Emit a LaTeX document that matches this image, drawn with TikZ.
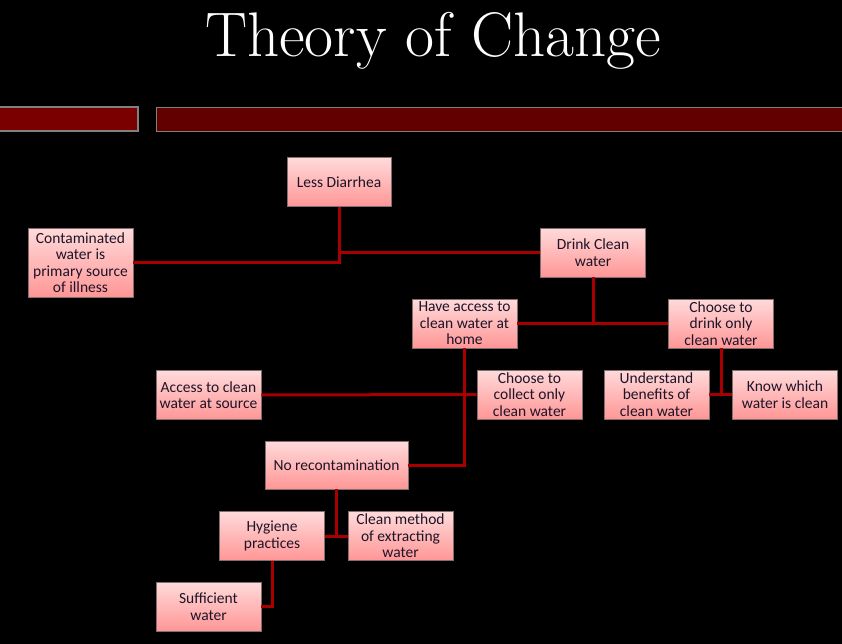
\documentclass[tikz,border=0pt]{standalone}
\usepackage{fontspec}
\setsansfont{Carlito}
\definecolor{linkred}{RGB}{168,0,0}
\definecolor{boxtop}{RGB}{255,218,218}
\definecolor{boxbot}{RGB}{255,150,150}
\definecolor{boxline}{RGB}{130,110,110}
\definecolor{textdark}{RGB}{30,20,40}
\definecolor{barleft}{RGB}{122,0,0}
\definecolor{barright}{RGB}{98,0,0}
\tikzset{
  goal/.style={draw=boxline, line width=0.8pt, top color=boxtop, bottom color=boxbot,
    minimum width=105pt, minimum height=49pt, inner sep=1pt, align=center,
    text=textdark, font=\sffamily\fontsize{15.5}{16.5}\selectfont},
  link/.style={draw=linkred, line width=3pt}
}
\begin{document}
\begin{tikzpicture}[x=1pt, y=-1pt]
\fill[black] (0,0) rectangle (842,644);
\useasboundingbox (0,0) rectangle (842,644);
\node[anchor=base, text=white, font=\fontsize{63}{65}\selectfont] (title) at (433,57) {Theory of Change};
\filldraw[fill=barleft, draw=gray, line width=1.5pt] (-2,107) rectangle (138,131);
\filldraw[fill=barright, draw=gray, line width=0.8pt] (156,107) rectangle (845,131);
\node[goal, minimum width=104pt] (less) at (339,182){Less Diarrhea};
\node[goal, minimum height=69pt] (contam) at (80.5,262.5){Contaminated\\water is\\primary source\\of illness};
\node[goal] (drink) at (593,252.5){Drink Clean\\water};
\draw[link] (less.south) |- (contam.east);
\draw[link] (less.south |- drink.west) -- (drink.west);
\node[goal] (access) at (464.5,323.5){Have access to\\clean water at\\home};
\node[goal] (choose) at (721,323.5){Choose to\\drink only\\clean water};
\draw[link] (drink.south) -- (drink.south |- access.east);
\draw[link] (access.east) -- (choose.west);
\node[goal] (underst) at (656.5,394.5){Understand\\benefits of\\clean water};
\node[goal] (know) at (785,394.5){Know which\\water is clean};
\draw[link] (choose.south) -- (choose.south |- underst.east);
\draw[link] (underst.east) -- (know.west);
\node[goal] (source) at (208.5,395){Access to clean\\water at source};
\node[goal] (collect) at (529.5,394.5){Choose to\\collect only\\clean water};
\node[goal, minimum width=143pt, minimum height=48pt] (norecon) at (336.5,465){No recontamination};
\draw[link] (source.east) -- (collect.west);
\draw[link] (access.south) |- (norecon.east);
\node[goal] (hyg) at (272,536){Hygiene\\practices};
\node[goal] (method) at (400.5,536){Clean method\\of extracting\\water};
\draw[link] (norecon.south) -- (norecon.south |- hyg.east);
\draw[link] (hyg.east) -- (method.west);
\node[goal] (suff) at (208.5,606.5){Sufficient\\water};
\draw[link] (hyg.south) |- (suff.east);
\end{tikzpicture}
\end{document}
